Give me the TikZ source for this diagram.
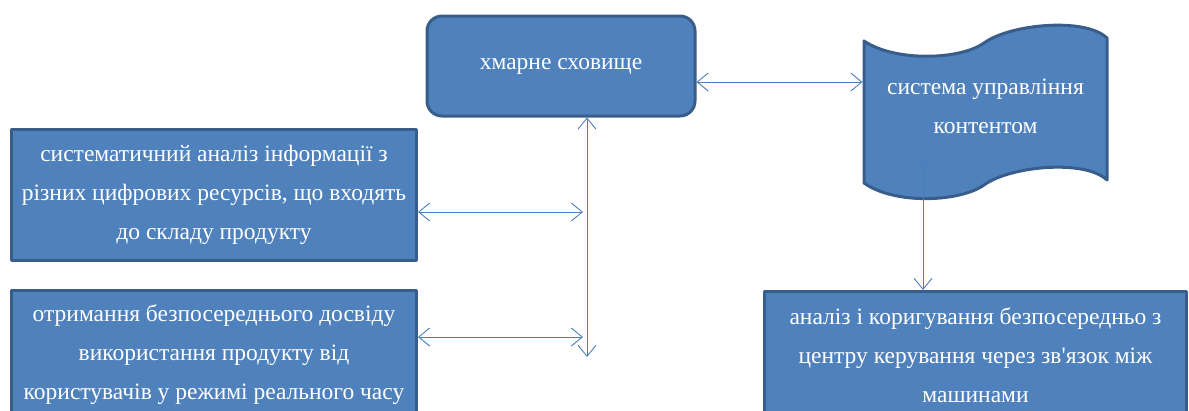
\documentclass[tikz,border=0pt]{standalone}
\usepackage{fontspec}
\setmainfont{Liberation Serif}
\newfontfamily\boxfont{Liberation Serif}
\font\aposfont="Liberation Serif" at 23.5pt
\newcommand\apos{{\aposfont\char39}}
\usetikzlibrary{arrows.meta}
\definecolor{boxfill}{RGB}{79,129,189}
\definecolor{boxline}{RGB}{56,93,138}
\definecolor{linkcol}{RGB}{74,126,187}
\tikzset{
  block/.style={draw=boxline,fill=boxfill,line width=3pt,line join=round,
    text=white,align=center,inner sep=0pt,font=\boxfont\fontsize{23.5}{39}\selectfont},
  link/.style={draw=linkcol,line width=0.9pt,
    {Straight Barb[length=11pt,width=18pt]}-{Straight Barb[length=11pt,width=18pt]}}
}

\begin{document}
\begin{tikzpicture}[x=1pt,y=-1pt]
    \useasboundingbox (0,0) rectangle (1189,410);
    \clip (0,0) rectangle (1189,410);

    % Cloud storage
    \node (cloud) at (561,66) [block,rounded corners=15pt,
        minimum width=268pt,minimum height=100pt] {хмарне сховище};

    % Content management (tape outline)
    \draw [block] (864,41) .. controls (895,62) and (960,60) .. (984,43)
        .. controls (1010,24) and (1085,17) .. (1107,38) -- (1107,180)
        .. controls (1085,159) and (1010,166) .. (984,185)
        .. controls (960,202) and (895,205) .. (864,183) -- cycle;
    \node (cms) at (985.5,106) [block,draw=none,fill=none,
        minimum width=243pt,minimum height=140pt] {система управління\\контентом};

    % Boxes on the left
    \node (analysis) at (214,195) [block,minimum width=405pt,minimum height=131pt]
        {систематичний аналіз інформації з\\різних цифрових ресурсів, що входять\\до складу продукту};
    \node (experience) at (214,355) [block,minimum width=405pt,minimum height=129pt]
        {отримання безпосереднього досвіду\\використання продукту від\\користувачів у режимі реального часу};

    % Box on the right
    \node (control) at (975.5,355) [block,minimum width=422pt,minimum height=127pt]
        {аналіз і коригування безпосередньо з\\центру керування через зв\apos язок між\\машинами};

    % Connectors
    \coordinate (busend) at (587,357);
    \coordinate (busleft) at (583,0);
    \coordinate (cmsin) at (923,160);
    \coordinate (toparrow) at ([yshift=-16pt]cloud.east);
    \coordinate (leftarrow) at ([yshift=-17pt]analysis.east);
    \coordinate (lowarrow) at ([yshift=18pt]experience.east);
    \draw [link] (toparrow) -- (toparrow -| cms.west);
    \draw [link] (busend |- cloud.south) -- (busend);
    \draw [link] (leftarrow) -- (leftarrow -| busleft);
    \draw [link] (lowarrow) -- (lowarrow -| busleft);
    \draw [link] (cmsin) -- (cmsin |- control.north);
\end{tikzpicture}
\end{document}
